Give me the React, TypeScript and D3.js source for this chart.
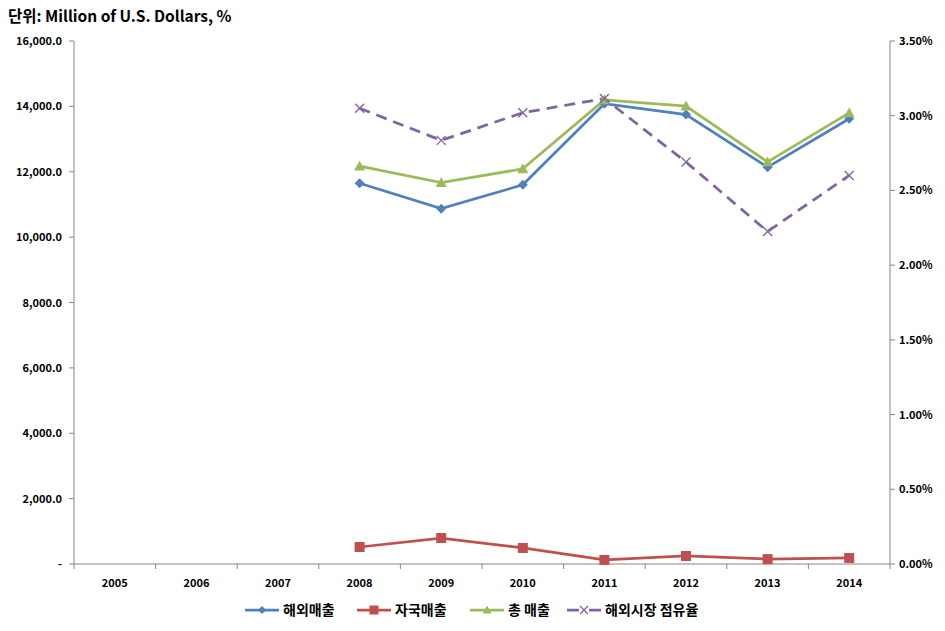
import React from "react";
import * as d3 from "d3";

const years = ["2005", "2006", "2007", "2008", "2009", "2010", "2011", "2012", "2013", "2014"];
const overseasSales: (number | null)[] = [null, null, null, 11650, 10870, 11600, 14080, 13750, 12140, 13620];
const domesticSales: (number | null)[] = [null, null, null, 520, 795, 490, 125, 245, 150, 185];
const totalSales: (number | null)[] = [null, null, null, 12170, 11665, 12090, 14200, 14010, 12300, 13800];
const overseasShare: (number | null)[] = [null, null, null, 3.05, 2.835, 3.02, 3.115, 2.69, 2.225, 2.6];
const leftTicks = [0, 2000, 4000, 6000, 8000, 10000, 12000, 14000, 16000];
const rightTicks = [0, 0.5, 1, 1.5, 2, 2.5, 3, 3.5];

const W = 945, H = 631;
const L = 74, R = 890, T = 41, B = 564;
const FONT = "'Noto Sans CJK KR', 'Noto Sans', sans-serif";
const AXIS = "#868686";
const C = { blue: "#4F81BD", red: "#C0504D", green: "#9BBB59", purple: "#8064A2" };

export default function App() {
  const x = d3.scaleBand<string>().domain(years).range([L, R]).paddingInner(0).paddingOuter(0);
  const cx = (y: string) => (x(y) as number) + x.bandwidth() / 2;
  const yL = d3.scaleLinear().domain([0, 16000]).range([B, T]);
  const yR = d3.scaleLinear().domain([0, 3.5]).range([B, T]);
  const fmtL = (v: number) => (v === 0 ? "-" : d3.format(",.1f")(v));
  const fmtR = (v: number) => v.toFixed(2) + "%";

  const mkLine = (vals: (number | null)[], sc: d3.ScaleLinear<number, number>) =>
    d3.line<number | null>()
      .defined((d) => d !== null)
      .x((_, i) => cx(years[i]))
      .y((d) => sc(d as number))(vals) || "";

  const pts = (vals: (number | null)[], sc: d3.ScaleLinear<number, number>) =>
    vals.map((v, i) => (v === null ? null : { x: cx(years[i]), y: sc(v) })).filter(Boolean) as { x: number; y: number }[];

  const diamond = (px: number, py: number, s: number, fill: string, k: string) => (
    <path key={k} d={`M${px},${py - s}L${px + s},${py}L${px},${py + s}L${px - s},${py}Z`} fill={fill} />
  );
  const square = (px: number, py: number, s: number, fill: string, k: string) => (
    <rect key={k} x={px - s} y={py - s} width={2 * s} height={2 * s} fill={fill} />
  );
  const tri = (px: number, py: number, s: number, fill: string, k: string) => (
    <path key={k} d={`M${px},${py - s}L${px + s},${py + s * 0.8}L${px - s},${py + s * 0.8}Z`} fill={fill} />
  );
  const cross = (px: number, py: number, s: number, col: string, k: string) => (
    <path key={k} d={`M${px - s},${py - s}L${px + s},${py + s}M${px - s},${py + s}L${px + s},${py - s}`} stroke={col} strokeWidth={1.3} fill="none" />
  );

  const legendItems = [
    { x: 245, label: "해외매출", color: C.blue, m: "d" },
    { x: 357, label: "자국매출", color: C.red, m: "s" },
    { x: 470, label: "총 매출", color: C.green, m: "t" },
    { x: 567, label: "해외시장 점유율", color: C.purple, m: "x" },
  ];
  const ly = 610;

  return (
    <svg width={W} height={H} style={{ position: "absolute", left: 0, top: 0, background: "#fff" }} fontFamily={FONT}>
      <rect width={W} height={H} fill="#fff" />
      <text x={8} y={22} fontSize={15.5} fontWeight="bold" fill="#000">단위: Million of U.S. Dollars, %</text>

      {/* left axis */}
      <line x1={L} x2={L} y1={T} y2={B} stroke={AXIS} />
      {leftTicks.map((t) => (
        <g key={"l" + t}>
          <line x1={L - 5} x2={L} y1={yL(t)} y2={yL(t)} stroke={AXIS} />
          <text x={L - 12} y={yL(t) + 4} fontSize={11} fontWeight="bold" textAnchor="end" fill="#000">{fmtL(t)}</text>
        </g>
      ))}
      {/* right axis */}
      <line x1={R} x2={R} y1={T} y2={B} stroke={AXIS} />
      {rightTicks.map((t) => (
        <g key={"r" + t}>
          <line x1={R} x2={R + 5} y1={yR(t)} y2={yR(t)} stroke={AXIS} />
          <text x={R + 9} y={yR(t) + 4} fontSize={11} fontWeight="bold" textAnchor="start" fill="#000">{fmtR(t)}</text>
        </g>
      ))}
      {/* x axis */}
      <line x1={L} x2={R} y1={B} y2={B} stroke={AXIS} />
      {years.map((y, i) => (
        <g key={"x" + y}>
          <line x1={(x(y) as number) + x.bandwidth()} x2={(x(y) as number) + x.bandwidth()} y1={B} y2={B + 5} stroke={AXIS} />
          {i === 0 && <line x1={L} x2={L} y1={B} y2={B + 5} stroke={AXIS} />}
          <text x={cx(y)} y={B + 23} fontSize={11} fontWeight="bold" textAnchor="middle" fill="#000">{y}</text>
        </g>
      ))}

      {/* series */}
      <path d={mkLine(domesticSales, yL)} stroke={C.red} strokeWidth={2.75} fill="none" />
      <path d={mkLine(overseasSales, yL)} stroke={C.blue} strokeWidth={2.75} fill="none" />
      <path d={mkLine(totalSales, yL)} stroke={C.green} strokeWidth={2.75} fill="none" />
      <path d={mkLine(overseasShare, yR)} stroke={C.purple} strokeWidth={2.75} fill="none" strokeDasharray="11,7" />
      {pts(domesticSales, yL).map((p, i) => square(p.x, p.y, 5, C.red, "s" + i))}
      {pts(overseasSales, yL).map((p, i) => diamond(p.x, p.y, 5, C.blue, "d" + i))}
      {pts(totalSales, yL).map((p, i) => tri(p.x, p.y, 5.5, C.green, "t" + i))}
      {pts(overseasShare, yR).map((p, i) => cross(p.x, p.y, 4.5, C.purple, "x" + i))}

      {/* legend */}
      {legendItems.map((it, i) => {
        const x0 = it.x, x1 = it.x + 34, mx = (x0 + x1) / 2;
        return (
          <g key={"lg" + i}>
            <line x1={x0} x2={x1} y1={ly} y2={ly} stroke={it.color} strokeWidth={2.75} />
            {it.m === "d" && diamond(mx, ly, 4, it.color, "ld")}
            {it.m === "s" && square(mx, ly, 4.5, it.color, "ls")}
            {it.m === "t" && tri(mx, ly, 4.5, it.color, "lt")}
            {it.m === "x" && <rect x={mx - 5} y={ly - 5} width={10} height={10} fill="#fff" />}
            {it.m === "x" && cross(mx, ly, 4, it.color, "lx")}
            <text x={x1 + 4} y={ly + 5} fontSize={14} fontWeight="bold" fill="#000">{it.label}</text>
          </g>
        );
      })}
    </svg>
  );
}
